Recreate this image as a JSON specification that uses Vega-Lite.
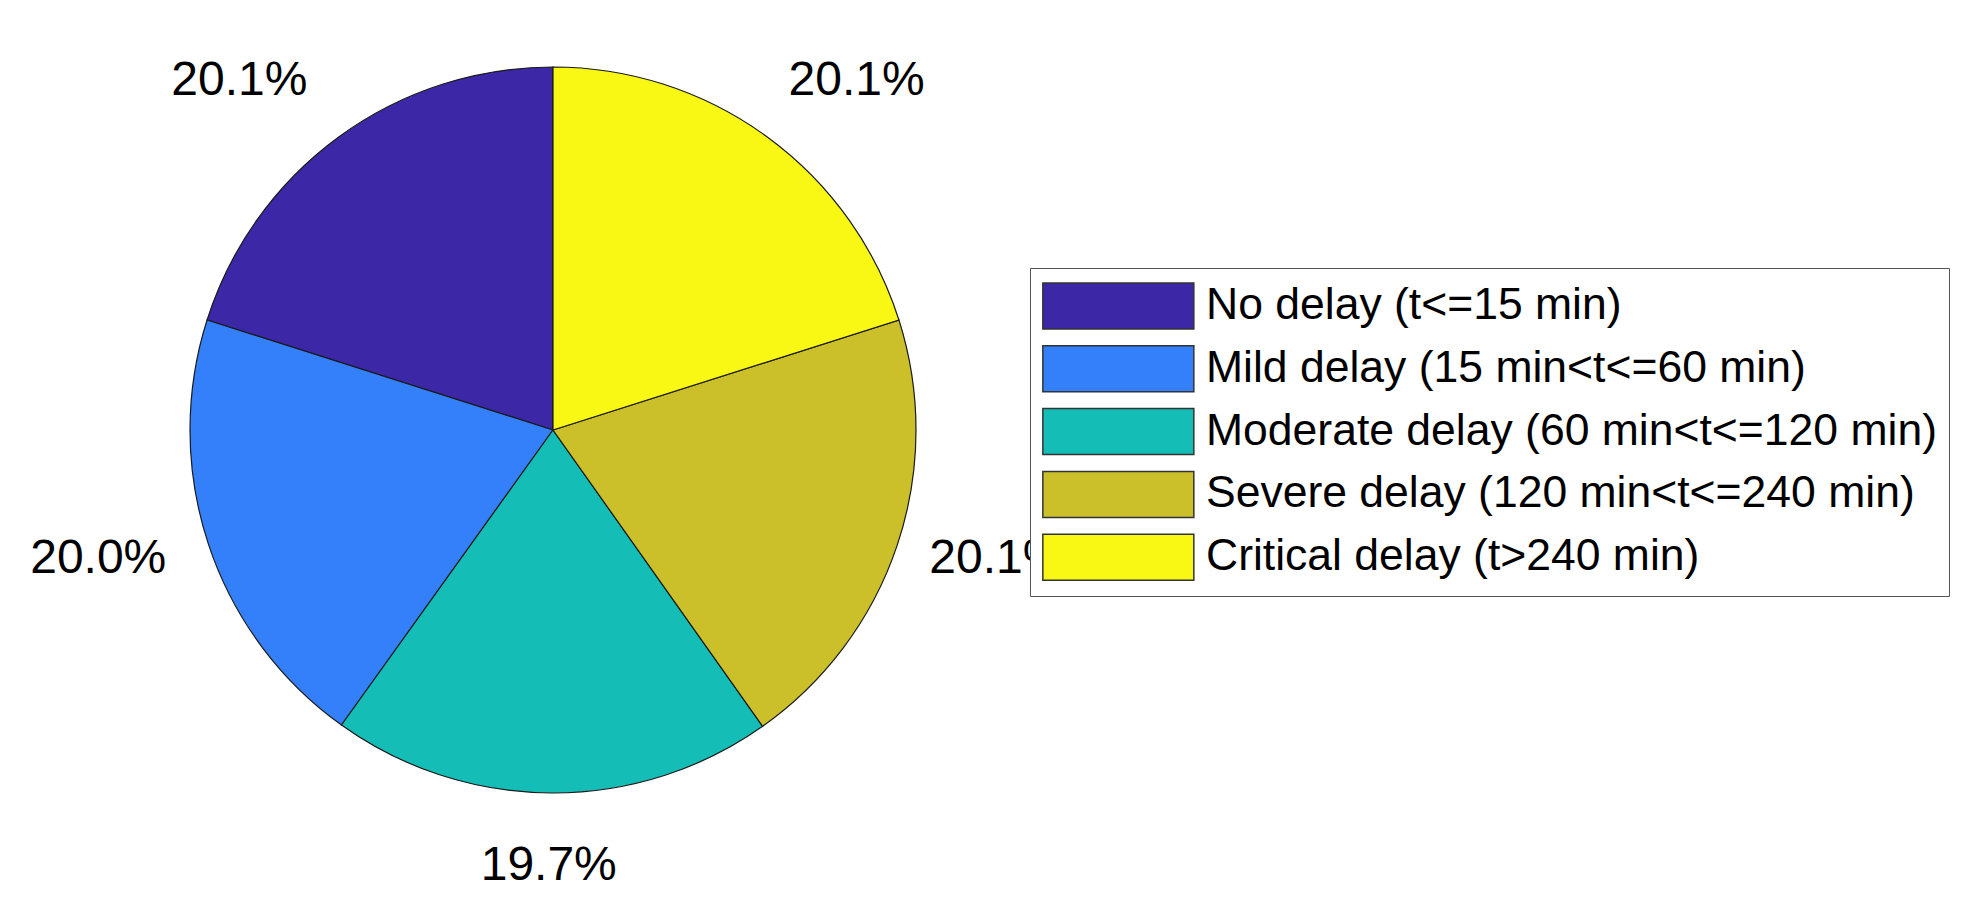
{
  "$schema": "https://vega.github.io/schema/vega-lite/v6.json",
  "width": 1106,
  "height": 860,
  "padding": {"left": 0, "top": 0, "right": 0, "bottom": 0},
  "autosize": {"type": "pad"},
  "background": "white",
  "config": {"view": {"stroke": null}, "font": "Liberation Sans"},
  "data": {
    "values": [
      {"category": "No delay (t<=15 min)", "pct": 20.1, "label": "20.1%", "ord": 5},
      {"category": "Mild delay (15 min<t<=60 min)", "pct": 20.0, "label": "20.0%", "ord": 4},
      {"category": "Moderate delay (60 min<t<=120 min)", "pct": 19.7, "label": "19.7%", "ord": 3},
      {"category": "Severe delay (120 min<t<=240 min)", "pct": 20.1, "label": "20.1%", "ord": 2},
      {"category": "Critical delay (t>240 min)", "pct": 20.1, "label": "20.1%", "ord": 1}
    ]
  },
  "encoding": {
    "theta": {"field": "pct", "type": "quantitative", "stack": true},
    "order": {"field": "ord", "type": "quantitative", "sort": "ascending"}
  },
  "layer": [
    {
      "mark": {"type": "arc", "outerRadius": 363, "stroke": "#1a1a1a", "strokeWidth": 1.2},
      "encoding": {
        "color": {
          "field": "category",
          "type": "nominal",
          "scale": {
            "domain": ["No delay (t<=15 min)", "Mild delay (15 min<t<=60 min)", "Moderate delay (60 min<t<=120 min)", "Severe delay (120 min<t<=240 min)", "Critical delay (t>240 min)"],
            "range": ["#3C27A6", "#3380FA", "#14BEB6", "#CBC02A", "#F8F814"]
          },
          "legend": {
            "title": null,
            "orient": "none",
            "legendX": 1030,
            "legendY": 268,
            "zindex": 1,
            "symbolType": "M-1,-0.914H5V0.914H-1Z",
            "symbolSize": 2533,
            "symbolStrokeColor": "#333333",
            "symbolStrokeWidth": 1.5,
            "symbolOpacity": 1,
            "labelFont": "Liberation Sans",
            "labelFontSize": 44.5,
            "labelColor": "#000000",
            "labelLimit": 2000,
            "labelOffset": 112,
            "fillColor": "white",
            "strokeColor": "#555555",
            "padding": 12,
            "rowPadding": 8.8
          }
        }
      }
    },
    {
      "mark": {"type": "text", "radius": 399, "align": "right", "baseline": "alphabetic", "dx": -10, "dy": -13, "fontSize": 48, "font": "Liberation Sans", "fill": "#000"},
      "encoding": {
        "detail": {"field": "category", "type": "nominal"},
        "text": {"condition": {"test": "datum.ord === 5", "field": "label"}, "value": ""}
      }
    },
    {
      "mark": {"type": "text", "radius": 399, "align": "left", "baseline": "alphabetic", "dx": 0, "dy": -13, "fontSize": 48, "font": "Liberation Sans", "fill": "#000"},
      "encoding": {
        "detail": {"field": "category", "type": "nominal"},
        "text": {"condition": {"test": "datum.ord === 1", "field": "label"}, "value": ""}
      }
    },
    {
      "mark": {"type": "text", "radius": 399, "align": "right", "baseline": "alphabetic", "dx": -8, "dy": 17, "fontSize": 48, "font": "Liberation Sans", "fill": "#000"},
      "encoding": {
        "detail": {"field": "category", "type": "nominal"},
        "text": {"condition": {"test": "datum.ord === 4", "field": "label"}, "value": ""}
      }
    },
    {
      "mark": {"type": "text", "radius": 399, "align": "left", "baseline": "alphabetic", "dx": -2, "dy": 16, "fontSize": 48, "font": "Liberation Sans", "fill": "#000"},
      "encoding": {
        "detail": {"field": "category", "type": "nominal"},
        "text": {"condition": {"test": "datum.ord === 2", "field": "label"}, "value": ""}
      }
    },
    {
      "mark": {"type": "text", "radius": 399, "align": "center", "baseline": "alphabetic", "dx": -3, "dy": 51, "fontSize": 48, "font": "Liberation Sans", "fill": "#000"},
      "encoding": {
        "detail": {"field": "category", "type": "nominal"},
        "text": {"condition": {"test": "datum.ord === 3", "field": "label"}, "value": ""}
      }
    }
  ]
}
